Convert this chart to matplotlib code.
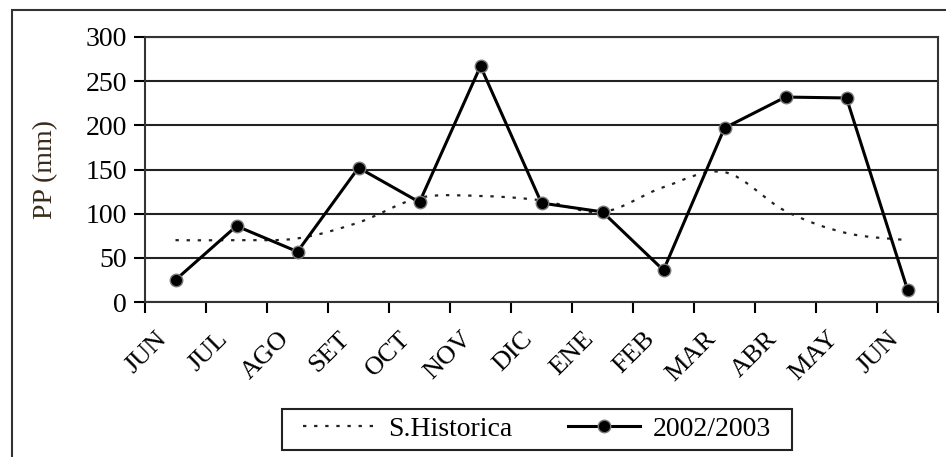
import numpy as np
import matplotlib.pyplot as plt
from matplotlib.path import Path
from matplotlib.patches import PathPatch, Rectangle
from matplotlib.lines import Line2D
import matplotlib.transforms as mtransforms

plt.rcParams['font.family'] = ['Liberation Serif', 'DejaVu Serif']

meses = ["JUN", "JUL", "AGO", "SET", "OCT", "NOV", "DIC",
         "ENE", "FEB", "MAR", "ABR", "MAY", "JUN"]
historica = [70, 70, 72, 90, 118, 120, 115, 102, 130, 147, 103, 78, 70]
pp_2002_2003 = [25, 86, 57, 152, 113, 267, 112, 102, 36, 197, 232, 231, 14]


def smooth_path(x, y):
    # Catmull-Rom segments written as cubic Bezier pieces (like a "smoothed line")
    x = np.asarray(x, float)
    y = np.asarray(y, float)
    verts = [(x[0], y[0])]
    codes = [Path.MOVETO]
    n = len(x)
    for i in range(n - 1):
        p0 = np.array([x[max(i - 1, 0)], y[max(i - 1, 0)]])
        p1 = np.array([x[i], y[i]])
        p2 = np.array([x[i + 1], y[i + 1]])
        p3 = np.array([x[min(i + 2, n - 1)], y[min(i + 2, n - 1)]])
        c1 = p1 + (p2 - p0) / 6
        c2 = p2 - (p3 - p1) / 6
        verts += [tuple(c1), tuple(c2), tuple(p2)]
        codes += [Path.CURVE4] * 3
    return Path(verts, codes)


W, H = 946, 457
fig = plt.figure(figsize=(W / 100, H / 100), dpi=100)
ax = fig.add_axes([145 / W, 1 - 302 / H, (938 - 145) / W, (302 - 37) / H])

# outer chart frame (only left and top edges fall inside the image)
fig.patches.append(Rectangle((12 / W, -0.1), 1.2, 1 - 10 / H + 0.1,
                             transform=fig.transFigure, fill=False,
                             edgecolor="#333333", linewidth=1.5))

x = np.arange(len(meses))

patch = PathPatch(smooth_path(x, historica), fill=False, edgecolor="#222222",
                  linewidth=1.6, linestyle=(0, (1.5, 3.5)))
ax.add_patch(patch)

ax.plot(x, pp_2002_2003, color="black", linewidth=2.2, marker="o",
        markersize=9, markerfacecolor="black", markeredgecolor="#777777",
        markeredgewidth=1.0, zorder=3)

ax.set_xlim(-0.5, len(meses) - 0.5)
ax.set_ylim(0, 300)
ax.set_yticks(range(0, 301, 50))
ax.yaxis.grid(True, color="#222222", linewidth=1.5)
ax.set_axisbelow(True)

ax.set_xticks(x)
ax.set_xticklabels(meses, rotation=45, ha="right", va="center",
                   rotation_mode="anchor", fontsize=19)
ax.set_xticks(np.arange(-0.5, len(meses)), minor=True)
ax.tick_params(axis="x", which="major", length=0, pad=24)
ax.tick_params(axis="x", which="minor", length=8, width=1.5, direction="out")
ax.tick_params(axis="y", length=8, width=1.5, labelsize=20, pad=5)
offset = mtransforms.ScaledTranslation(-12 / 100, 0, fig.dpi_scale_trans)
for lbl in ax.get_xticklabels():
    lbl.set_transform(lbl.get_transform() + offset)

for side in ax.spines.values():
    side.set_color("#333333")
    side.set_linewidth(1.5)

ax.set_ylabel("PP (mm)", fontsize=20, color="#3a2a1a", labelpad=20)

handles = [
    Line2D([], [], color="#222222", linewidth=1.6, linestyle=(0, (1.5, 3.5))),
    Line2D([], [], color="black", linewidth=2.2, marker="o", markersize=9,
           markerfacecolor="black", markeredgecolor="#777777"),
]
fig.legend(handles, ["S.Historica", "2002/2003"], ncol=2,
           loc="center", bbox_to_anchor=(537 / W, 1 - 429 / H),
           fontsize=20, frameon=False, handlelength=2.6,
           handletextpad=0.45, columnspacing=2.0, borderpad=0.2)
# legend box, wider than the entries
fig.patches.append(Rectangle((282 / W, 1 - 450 / H), (792 - 282) / W,
                             (450 - 409) / H, transform=fig.transFigure,
                             fill=False, edgecolor="#222222", linewidth=1.5))

fig.savefig("out.png", dpi=100)
